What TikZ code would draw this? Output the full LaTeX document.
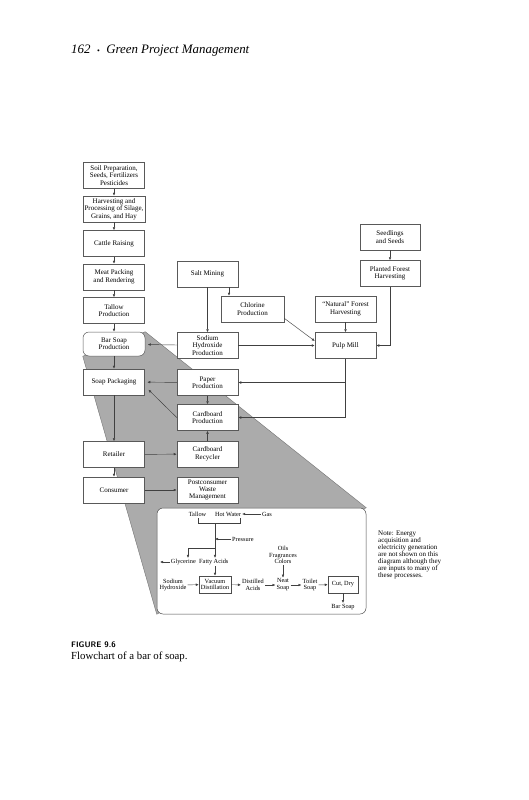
\documentclass[tikz,border=0pt]{standalone}
\usepackage{fontspec}
\setmainfont{Liberation Serif}
\usetikzlibrary{calc,backgrounds,arrows.meta}
\begin{document}
\begin{tikzpicture}[x=1pt,y=-1pt,
  box/.style={draw=black!65, fill=white, line width=0.5pt, align=center,
    minimum width=61pt, minimum height=26pt, inner sep=0pt,
    font=\fontsize{7}{7.4}\selectfont},
  arr/.style={-{Latex[length=3pt,width=2.6pt]}, line width=0.45pt, draw=black!75},
  ln/.style={line width=0.45pt, draw=black!75},
  itxt/.style={font=\fontsize{6.3}{6.8}\selectfont, inner sep=1pt, align=center},
  ibox/.style={draw=black!70, fill=white, line width=0.5pt, align=center,
    inner sep=0pt, minimum height=17pt, font=\fontsize{6.3}{6.8}\selectfont}]
\useasboundingbox (0,0) rectangle (529,800);

% header and caption
\node[anchor=west, inner sep=0pt, font=\fontsize{12.9}{14}\selectfont\itshape] (hdr) at (71,51)
  {162\enspace{\upshape\fontsize{8}{8}\selectfont\textbullet}\enspace Green Project Management};
\node[anchor=west, inner sep=0pt, font=\fontsize{8}{9}\selectfont\sffamily\bfseries] (fig) at (71,645) {FIGURE 9.6};
\node[anchor=west, inner sep=0pt, font=\fontsize{10.8}{12}\selectfont] (cap) at (71,657) {Flowchart of a bar of soap.};

% left column
\node[box] (soil) at (114,175.5) {Soil Preparation,\\Seeds, Fertilizers\\Pesticides};
\node[box, minimum width=62pt] (harv) at (114,209) {Harvesting and\\Processing of Silage,\\Grains, and Hay};
\node[box] (cattle) at (114,243.5) {Cattle Raising};
\node[box] (meat) at (114,277) {Meat Packing\\and Rendering};
\node[box] (tallow) at (114,310.5) {Tallow\\Production};
\node[box, rounded corners=6pt, minimum width=62pt, minimum height=24pt] (barsoap) at (114,344) {Bar Soap\\Production};
\node[box] (soappack) at (114,382) {Soap Packaging};
\node[box] (retailer) at (114,454.5) {Retailer};
\node[box] (consumer) at (114,490) {Consumer};

% middle column
\node[box] (salt) at (207.5,274) {Salt Mining};
\node[box, minimum width=63pt] (chlorine) at (252.5,309) {Chlorine\\Production};
\node[box] (sodium) at (207.5,345.5) {Sodium\\Hydroxide\\Production};
\node[box] (paper) at (207.5,382.5) {Paper\\Production};
\node[box] (cardprod) at (207.5,417.5) {Cardboard\\Production};
\node[box] (cardrec) at (207.5,454) {Cardboard\\Recycler};
\node[box] (postcons) at (207.5,490) {Postconsumer\\Waste\\Management};

% right columns
\node[box] (natural) at (345.5,309) {``Natural'' Forest\\Harvesting};
\node[box] (pulp) at (345.5,345.5) {Pulp Mill};
\node[box, minimum width=60pt] (seedlings) at (390,237) {Seedlings\\and Seeds};
\node[box, minimum width=60pt] (planted) at (390,273.5) {Planted Forest\\Harvesting};

% inset
\node[draw=black!70, fill=white, line width=0.5pt, rounded corners=6pt,
  minimum width=209pt, minimum height=106pt, inner sep=0pt] (inset) at (261.5,561) {};

\begin{scope}[on background layer]
\fill[white] (0,0) rectangle (529,800);
\filldraw[fill=black!33, draw=black!55, line width=0.4pt]
  (barsoap.north east) -- (inset.north east) -- (inset.south west) -- (barsoap.south west) -- cycle;
\end{scope}

% left column arrows
\draw[arr] (soil) -- (harv);
\draw[arr] (harv) -- (cattle);
\draw[arr] (cattle) -- (meat);
\draw[arr] (meat) -- (tallow);
\draw[arr] (tallow) -- (barsoap);
\draw[arr] (barsoap) -- (soappack);
\draw[arr] (soappack) -- (retailer);
\draw[arr] (retailer) -- (consumer);

% other arrows
\draw[arr] (salt) -- (sodium);
\coordinate (cl) at ($(salt.south)+(21.5,0)$);
\draw[arr] (cl) -- (cl |- chlorine.north);
\draw[arr] ($(chlorine.south east)+(0,-4)$) -- ($(pulp.west)+(0,-4.5)$);
\draw[arr] (sodium) -- (pulp);
\draw[arr, shorten >=2.5pt] (sodium) -- (barsoap);
\draw[arr] (natural) -- (pulp);
\draw[arr] (seedlings) -- (planted);
\draw[arr] (planted.south) |- (pulp.east);
\draw[arr] (pulp.south) |- (paper.east);
\draw[arr] (pulp.south) |- (cardprod.east);
\draw[arr, shorten >=2.5pt] (paper) -- (soappack);
\draw[arr] (paper) -- (cardprod);
\draw[arr, shorten >=1pt] (cardprod.west) -- ($(soappack.east)+(3,7)$);
\draw[arr] (cardrec) -- (cardprod);
\draw[arr] (retailer) -- (cardrec);
\draw[arr] (consumer) -- (postcons);

% inset contents
\node[itxt] (itallow) at (197.5,514) {Tallow};
\node[itxt] (ihot) at (228,514) {Hot Water};
\node[itxt] (igas) at (267,514) {Gas};
\draw[arr] (igas) -- (ihot);
\coordinate (bl) at (198,518);
\coordinate (br) at (240,518);
\coordinate (bm) at (215,523);
\draw[ln] (bl) -- (bl |- bm) -- (br |- bm) -- (br);
\node[itxt, anchor=west] (ipress) at (231,539) {Pressure};
\draw[arr] (ipress.west) -- (bm |- ipress.west);
\node[itxt, anchor=west] (ifatty) at (198,562) {Fatty Acids};
\node[itxt, anchor=east] (iglyc) at (197,562) {Glycerine};
\coordinate (bj) at (215,548);
\coordinate (gx) at (188,548);
\draw[arr] (bm) -- (bm |- ifatty.north);
\draw[ln] (bj) -- (gx);
\draw[arr] (gx) -- (gx |- iglyc.north);
\coordinate (gl) at (160,562);
\draw[arr] (iglyc.west) -- (gl);
\node[ibox, minimum width=32pt] (ivac) at (215,584.5) {Vacuum\\Distillation};
\draw[arr] (bm |- ifatty.south) -- (ivac.north);
\node[itxt] (isod) at (173,585) {Sodium\\Hydroxide};
\draw[arr] (isod) -- (ivac);
\node[itxt] (idist) at (253,585) {Distilled\\Acids};
\draw[arr] (ivac) -- (idist);
\node[itxt] (ineat) at (283,585) {Neat\\Soap};
\draw[arr] (idist) -- (ineat);
\node[itxt] (ioils) at (283,555) {Oils\\Fragrances\\Colors};
\draw[arr] (ioils) -- (ineat);
\node[itxt] (itoilet) at (310,585) {Toilet\\Soap};
\draw[arr] (ineat) -- (itoilet);
\node[ibox, minimum width=30pt] (icut) at (343,584.5) {Cut, Dry};
\draw[arr] (itoilet) -- (icut);
\node[itxt] (ibar) at (343,607) {Bar Soap};
\draw[arr] (icut) -- (ibar);

% note
\node[anchor=north west, align=left, inner sep=0pt, font=\fontsize{7}{7}\selectfont] (note) at (378,531)
  {Note: Energy\\acquisition and\\electricity generation\\are not shown on this\\diagram although they\\are inputs to many of\\these processes.};
\end{tikzpicture}
\end{document}
